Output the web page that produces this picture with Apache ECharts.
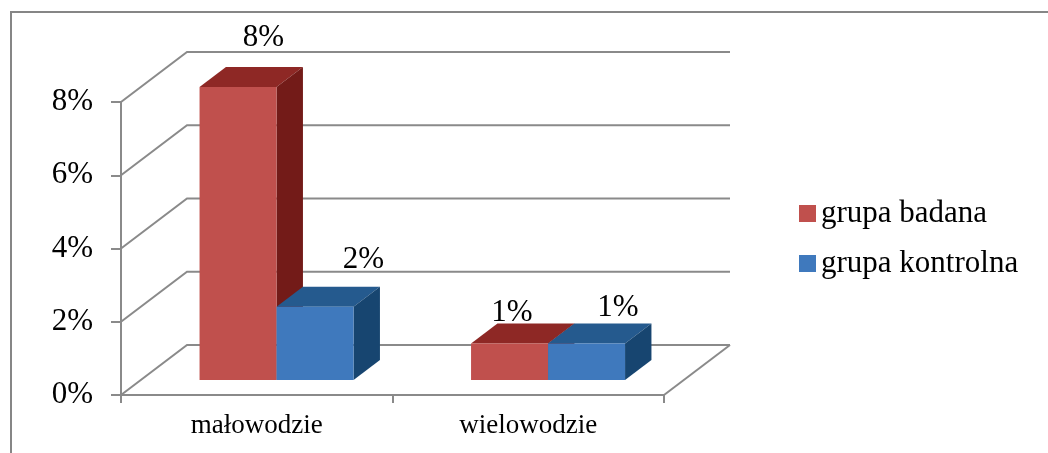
<!DOCTYPE html>
<html>
<head>
<meta charset="utf-8">
<script src="https://cdn.jsdelivr.net/npm/echarts@6/dist/echarts.min.js"></script>
<style>
  html, body { margin: 0; padding: 0; background: #ffffff; }
  #chart { width: 1048px; height: 453px; }
</style>
</head>
<body>
<div id="chart"></div>
<script>
// Chart data
const categories = ['małowodzie', 'wielowodzie'];
const seriesNames = ['grupa badana', 'grupa kontrolna'];
const grupaBadana = [8, 1];      // %
const grupaKontrolna = [2, 1];   // %
const yTickValues = [0, 2, 4, 6, 8];

// Pseudo-3D look
const DEPTH_X = 66;    // horizontal shift from front plane to back wall
const DEPTH_Y = -50;   // vertical shift from front plane to back wall
const BAR_FRONT = 0.3; // bar front face depth (fraction of full depth)
const BAR_BACK = 0.7;  // bar back face depth
const BAR_FRAC = 0.2836; // bar width as share of category band
const GRID_COLOR = '#8a8a8a';
const FONT = '"Liberation Serif", "Times New Roman", serif';

const palette = {
  'grupa badana':    { front: '#C0504D', top: '#8E2825', side: '#731B18' },
  'grupa kontrolna': { front: '#3F79BD', top: '#255A8E', side: '#174570' }
};

// Per-label nudges (px) relative to the centre of each bar's top back edge
const labelNudge = {
  'grupa badana':    [[-1, -29], [-24, -11]],
  'grupa kontrolna': [[22, -27], [5, -16]]
};

const chart = echarts.init(document.getElementById('chart'), null, { renderer: 'canvas' });

function wallRenderItem(params, api) {
  const cs = params.coordSys;
  const v = api.value(1);
  const y = api.coord([0, v])[1];
  const left = cs.x;
  const right = cs.x + cs.width;
  const style = { stroke: GRID_COLOR, lineWidth: 2, fill: null };
  const children = [
    { type: 'polyline', shape: { points: [[left, y], [left + DEPTH_X, y + DEPTH_Y], [right + DEPTH_X, y + DEPTH_Y]] }, style: style }
  ];
  if (v === 0) {
    children.push({ type: 'line', shape: { x1: right, y1: y, x2: right + DEPTH_X, y2: y + DEPTH_Y }, style: style });
  }
  return { type: 'group', children: children };
}

function makeBarRenderer(name, slot) {
  const c = palette[name];
  return function (params, api) {
    const i = api.value(0);
    const v = api.value(1);
    const base = api.coord([i, 0]);
    const top = api.coord([i, v]);
    const band = api.size([1, 0])[0];
    const w = band * BAR_FRAC;
    const fdx = DEPTH_X * BAR_FRONT, fdy = DEPTH_Y * BAR_FRONT;
    const sdx = DEPTH_X * (BAR_BACK - BAR_FRONT), sdy = DEPTH_Y * (BAR_BACK - BAR_FRONT);
    const x0 = base[0] + fdx + slot * w;
    const x1 = x0 + w;
    const y0 = top[1] + fdy;
    const y1 = base[1] + fdy;
    return {
      type: 'group',
      children: [
        { type: 'polygon', shape: { points: [[x0, y0], [x1, y0], [x1 + sdx, y0 + sdy], [x0 + sdx, y0 + sdy]] }, style: { fill: c.top } },
        { type: 'polygon', shape: { points: [[x1, y0], [x1 + sdx, y0 + sdy], [x1 + sdx, y1 + sdy], [x1, y1]] }, style: { fill: c.side } },
        { type: 'rect', shape: { x: x0, y: y0, width: w, height: y1 - y0 }, style: { fill: c.front } }
      ]
    };
  };
}

function labelRenderItem(params, api) {
  const i = api.value(0);
  const v = api.value(1);
  const slot = api.value(2);
  const name = seriesNames[slot + 1];
  const base = api.coord([i, 0]);
  const top = api.coord([i, v]);
  const band = api.size([1, 0])[0];
  const w = band * BAR_FRAC;
  const bx = DEPTH_X * BAR_BACK, by = DEPTH_Y * BAR_BACK;
  const cx = base[0] + bx + slot * w + w / 2;
  const cy = top[1] + by;
  const nudge = labelNudge[name][i];
  return {
    type: 'text',
    style: {
      text: v + '%',
      x: cx + nudge[0],
      y: cy + nudge[1],
      align: 'center',
      verticalAlign: 'middle',
      font: '31px ' + FONT,
      fill: '#000000'
    }
  };
}

const labelData = [];
grupaBadana.forEach((v, i) => labelData.push([i, v, -1]));
grupaKontrolna.forEach((v, i) => labelData.push([i, v, 0]));

const option = {
  animation: false,
  backgroundColor: '#ffffff',
  graphic: [
    { type: 'rect', shape: { x: 11, y: 12, width: 1100, height: 500 }, style: { fill: null, stroke: '#868686', lineWidth: 2 }, z: 0 }
  ],
  legend: {
    data: seriesNames,
    orient: 'vertical',
    left: 799,
    top: 198,
    padding: 0,
    icon: 'rect',
    itemWidth: 17,
    itemHeight: 17,
    itemGap: 19,
    textStyle: { fontFamily: FONT, fontSize: 31, color: '#000000' },
    selectedMode: false
  },
  grid: { left: 121, right: 384, top: 102, bottom: 58, containLabel: false },
  xAxis: {
    type: 'category',
    data: categories,
    axisLine: { show: true, lineStyle: { color: GRID_COLOR, width: 2 } },
    axisTick: { show: true, length: 8, lineStyle: { color: GRID_COLOR, width: 2 } },
    axisLabel: { fontFamily: FONT, fontSize: 27, color: '#000000', margin: 17 },
    splitLine: { show: false }
  },
  yAxis: {
    type: 'value',
    min: 0,
    max: 8,
    interval: 2,
    axisLine: { show: true, lineStyle: { color: GRID_COLOR, width: 2 } },
    axisTick: { show: true, length: 10, lineStyle: { color: GRID_COLOR, width: 2 } },
    axisLabel: { fontFamily: FONT, fontSize: 31, color: '#000000', margin: 28, formatter: '{value}%' },
    splitLine: { show: false }
  },
  series: [
    {
      name: 'wall',
      type: 'custom',
      renderItem: wallRenderItem,
      data: yTickValues.map(v => [0, v]),
      encode: { x: 0, y: 1 },
      silent: true,
      z: 1
    },
    {
      name: seriesNames[0],
      type: 'custom',
      renderItem: makeBarRenderer(seriesNames[0], -1),
      data: grupaBadana.map((v, i) => [i, v]),
      encode: { x: 0, y: 1 },
      itemStyle: { color: palette[seriesNames[0]].front },
      z: 2
    },
    {
      name: seriesNames[1],
      type: 'custom',
      renderItem: makeBarRenderer(seriesNames[1], 0),
      data: grupaKontrolna.map((v, i) => [i, v]),
      encode: { x: 0, y: 1 },
      itemStyle: { color: palette[seriesNames[1]].front },
      z: 3
    },
    {
      name: 'labels',
      type: 'custom',
      renderItem: labelRenderItem,
      data: labelData,
      encode: { x: 0, y: 1 },
      silent: true,
      z: 4
    }
  ]
};

chart.setOption(option);
</script>
</body>
</html>
